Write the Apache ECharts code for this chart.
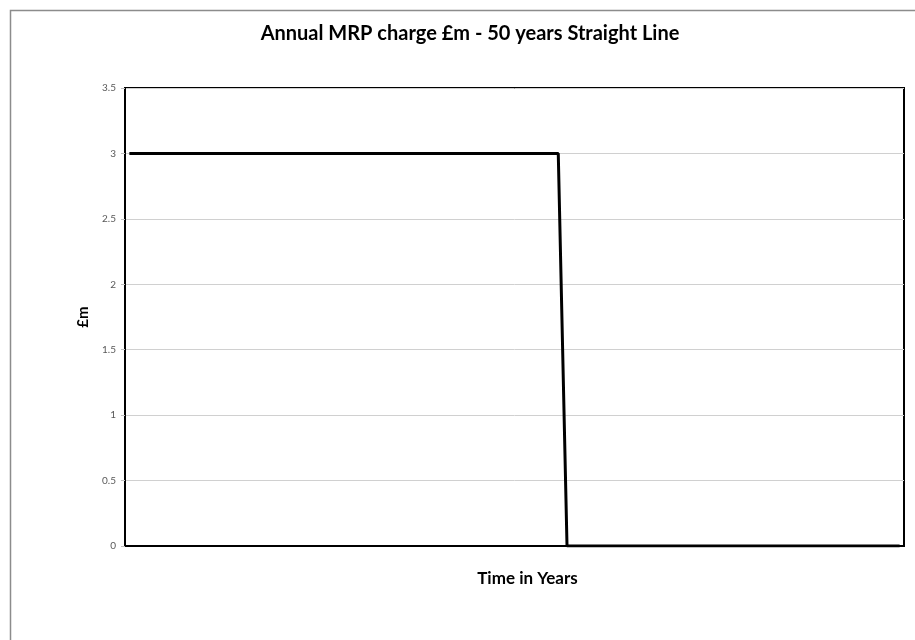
<!DOCTYPE html>
<html>
<head>
<meta charset="utf-8">
<script src="https://cdn.jsdelivr.net/npm/echarts@6/dist/echarts.min.js"></script>
<style>
  html, body { margin: 0; padding: 0; background: #fff; }
  #chart { width: 915px; height: 640px; }
</style>
</head>
<body>
<div id="chart"></div>
<script>
// Years on the horizontal axis (no labels drawn)
const years = [];
for (let y = 1; y <= 89; y++) years.push(String(y));

// Annual MRP charge in £m: 3.0 for the 50-year life, nil afterwards
const chargeYears = 50;
const annualCharge = 3;
const mrpCharge = years.map((_, i) => (i < chargeYears ? annualCharge : 0));

// Y-axis tick range
const yMin = 0;
const yMax = 3.5;
const yStep = 0.5;

const chart = echarts.init(document.getElementById('chart'));
chart.setOption({
  backgroundColor: '#fff',
  animation: false,
  title: {
    text: 'Annual MRP charge £m - 50 years Straight Line',
    left: 465,
    textAlign: 'center',
    top: 19,
    textStyle: { fontFamily: 'Lato', fontWeight: 'bold', fontSize: 20, color: '#000' }
  },
  graphic: [{
    type: 'polyline',
    shape: { points: [[10.5, 640], [10.5, 10.5], [915, 10.5]] },
    style: { stroke: '#8c8c8c', lineWidth: 1.5, fill: null },
    silent: true
  }],
  grid: {
    left: 125, right: 11, top: 88, bottom: 94,
    show: true, borderColor: '#000', borderWidth: 2, backgroundColor: 'transparent'
  },
  xAxis: {
    type: 'category',
    data: years,
    boundaryGap: true,
    name: 'Time in Years',
    nameLocation: 'middle',
    nameGap: 24,
    nameTextStyle: { fontFamily: 'Lato', fontWeight: 'bold', fontSize: 17, color: '#000', padding: [0, 0, 0, 26] },
    axisLine: { lineStyle: { color: '#000', width: 2 } },
    axisTick: { show: false },
    axisLabel: { show: false },
    splitLine: { show: false }
  },
  yAxis: {
    type: 'value',
    min: yMin, max: yMax, interval: yStep,
    name: '£m',
    nameLocation: 'middle',
    nameGap: 27,
    nameRotate: 90,
    nameTextStyle: { fontFamily: 'Lato', fontWeight: 'bold', fontSize: 15, color: '#000' },
    axisLine: { show: true, lineStyle: { color: '#000', width: 2 } },
    axisTick: { show: true, length: 4, lineStyle: { color: '#bfbfbf' } },
    axisLabel: { fontFamily: 'Lato', fontSize: 10, color: '#595959', margin: 9 },
    splitLine: { lineStyle: { color: '#d0d0d0', width: 1 } }
  },
  series: [{
    type: 'line',
    data: mrpCharge,
    symbol: 'none',
    lineStyle: { color: '#000', width: 3 },
    z: 3
  }]
});
</script>
</body>
</html>
